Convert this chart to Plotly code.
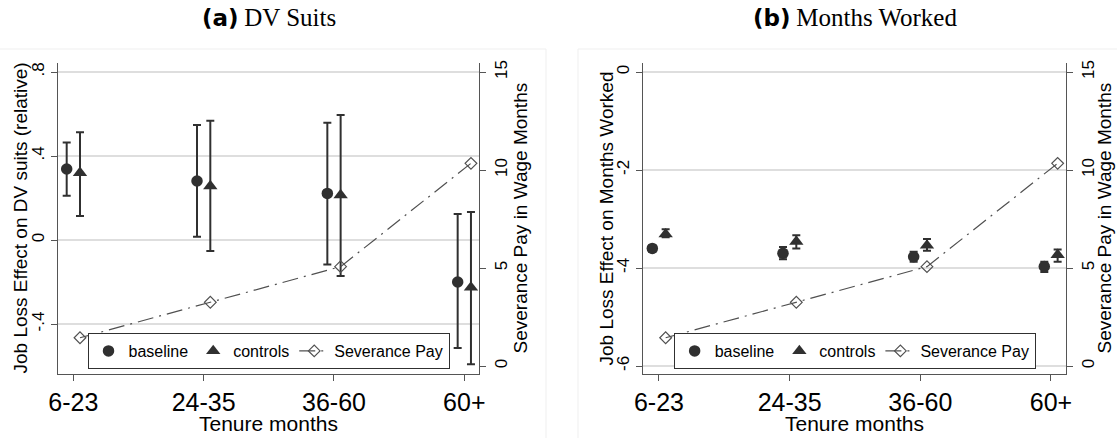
import plotly.graph_objects as go

# ---------------- data ----------------
categories = ["6-23", "24-35", "36-60", "60+"]

# Panel (a): DV suits (relative)
dv_base = [0.338, 0.281, 0.222, -0.200]
dv_base_lo = [0.211, 0.016, -0.116, -0.514]
dv_base_hi = [0.465, 0.548, 0.559, 0.124]
dv_ctrl = [0.320, 0.257, 0.214, -0.226]
dv_ctrl_lo = [0.114, -0.052, -0.171, -0.592]
dv_ctrl_hi = [0.513, 0.568, 0.595, 0.133]

# Panel (b): months worked
mw_base = [-3.60, -3.70, -3.77, -3.97]
mw_base_lo = [-3.67, -3.82, -3.87, -4.08]
mw_base_hi = [-3.54, -3.57, -3.67, -3.87]
mw_ctrl = [-3.31, -3.46, -3.54, -3.73]
mw_ctrl_lo = [-3.37, -3.60, -3.65, -3.87]
mw_ctrl_hi = [-3.21, -3.33, -3.41, -3.62]

# Severance pay in wage months (right axis)
severance = [1.44, 3.25, 5.07, 10.34]

left_ticks_a = [-0.4, 0, 0.4, 0.8]
left_ticktext_a = ["-.4", "0", ".4", ".8"]
left_ticks_b = [-6, -4, -2, 0]
left_ticktext_b = ["-6", "-4", "-2", "0"]
right_ticks = [0, 5, 10, 15]

# ---------------- styling ----------------
W, H = 1117, 438
SANS = "Liberation Sans"
DARK = "#303030"
GRAY = "#505050"
AXIS = "#555555"
GRID = "#dedede"
OFF = 0.051

xc = [i + 1 for i in range(len(categories))]
xb = [v - OFF for v in xc]
xk = [v + OFF for v in xc]


def err(vals, lo, hi):
    return dict(type="data", symmetric=False,
                array=[h - v for v, h in zip(vals, hi)],
                arrayminus=[v - l for v, l in zip(vals, lo)],
                color=DARK, thickness=2, width=4)


fig = go.Figure()

panels = [
    dict(x="x", y="y", y2="y2", base=dv_base, blo=dv_base_lo, bhi=dv_base_hi,
         ctrl=dv_ctrl, clo=dv_ctrl_lo, chi=dv_ctrl_hi, legend="legend"),
    dict(x="x2", y="y3", y2="y4", base=mw_base, blo=mw_base_lo, bhi=mw_base_hi,
         ctrl=mw_ctrl, clo=mw_ctrl_lo, chi=mw_ctrl_hi, legend="legend2"),
]

for p in panels:
    fig.add_trace(go.Scatter(
        x=xb, y=p["base"], mode="markers", name="baseline",
        marker=dict(symbol="circle", size=11.5, color=DARK),
        error_y=err(p["base"], p["blo"], p["bhi"]),
        xaxis=p["x"], yaxis=p["y"], legend=p["legend"], cliponaxis=False))
    fig.add_trace(go.Scatter(
        x=xk, y=p["ctrl"], mode="markers", name="controls",
        marker=dict(symbol="triangle-up", size=12.5, color=DARK),
        error_y=err(p["ctrl"], p["clo"], p["chi"]),
        xaxis=p["x"], yaxis=p["y"], legend=p["legend"], cliponaxis=False))
    fig.add_trace(go.Scatter(
        x=xk, y=severance, mode="lines+markers", name="Severance Pay",
        line=dict(color=GRAY, width=1.2, dash="16px,6px,2px,6px"),
        marker=dict(symbol="diamond-open", size=9, color=GRAY,
                    line=dict(width=1.2, color=GRAY)),
        xaxis=p["x"], yaxis=p["y2"], legend=p["legend"], cliponaxis=False))

# geometry (paper fractions)
ydom = [1 - 374 / H, 1 - 63 / H]
xdom_a = [57.7 / W, 479.3 / W]
xdom_b = [643.3 / W, 1066.0 / W]
xrange = [0.88, 4.115]

common_x = dict(range=xrange, tickvals=xc, ticktext=categories, showgrid=False,
                zeroline=False, showline=True, linecolor=AXIS, linewidth=1.3,
                ticks="outside", ticklen=6, tickcolor=AXIS, tickwidth=1.3,
                automargin=False,
                tickfont=dict(family=SANS, size=25, color="#000"))

common_yl = dict(showgrid=True, gridcolor=GRID, gridwidth=1.5, zeroline=False,
                 showline=True, linecolor=AXIS, linewidth=1.3, ticks="outside",
                 ticklen=6, tickcolor=AXIS, tickwidth=1.3, tickangle=-90,
                 automargin=False,
                 tickfont=dict(family=SANS, size=17, color="#000"))

common_yr = dict(showgrid=False, zeroline=False, showline=True, linecolor=AXIS,
                 linewidth=1.3, ticks="outside", ticklen=6, tickcolor=AXIS,
                 tickwidth=1.3, tickangle=-90, side="right", automargin=False,
                 range=[-0.408, 15.459], tickvals=right_ticks,
                 tickfont=dict(family=SANS, size=17, color="#000"))

fig.update_layout(
    width=W, height=H, margin=dict(l=0, r=0, t=0, b=0, autoexpand=False),
    paper_bgcolor="white", plot_bgcolor="white", showlegend=True,
    xaxis=dict(domain=xdom_a, anchor="y", **common_x),
    xaxis2=dict(domain=xdom_b, anchor="y3", **common_x),
    yaxis=dict(domain=ydom, anchor="x", range=[-0.638, 0.843],
               tickvals=left_ticks_a, ticktext=left_ticktext_a, **common_yl),
    yaxis2=dict(domain=ydom, anchor="x", overlaying="y", **common_yr),
    yaxis3=dict(domain=ydom, anchor="x2", range=[-6.163, 0.184],
                tickvals=left_ticks_b, ticktext=left_ticktext_b, **common_yl),
    yaxis4=dict(domain=ydom, anchor="x2", overlaying="y3", **common_yr),
    legend=dict(orientation="h", x=(xdom_a[0] + xdom_a[1]) / 2, xanchor="center",
                y=1 - 369 / H, yanchor="bottom", bgcolor="white",
                bordercolor=DARK, borderwidth=1, itemwidth=30,
                font=dict(family=SANS, size=16, color="#000"),
                tracegroupgap=0, itemclick=False),
    legend2=dict(orientation="h", x=(xdom_b[0] + xdom_b[1]) / 2, xanchor="center",
                 y=1 - 369 / H, yanchor="bottom", bgcolor="white",
                 bordercolor=DARK, borderwidth=1, itemwidth=30,
                 font=dict(family=SANS, size=16, color="#000"),
                 tracegroupgap=0, itemclick=False),
)

# faint graph-region frames
fig.add_shape(type="rect", xref="paper", yref="paper", x0=-0.01, x1=546 / W,
              y0=-0.01, y1=1 - 49 / H, line=dict(color="#efefef", width=1), layer="below")
fig.add_shape(type="rect", xref="paper", yref="paper", x0=578 / W, x1=1.01,
              y0=-0.01, y1=1 - 49 / H, line=dict(color="#efefef", width=1), layer="below")

ymid = (ydom[0] + ydom[1]) / 2
axis_titles = [
    (20, "Job Loss Effect on DV suits (relative)"),
    (520, "Severance Pay in Wage Months"),
    (606, "Job Loss Effect on Months Worked"),
    (1104, "Severance Pay in Wage Months"),
]
for px, txt in axis_titles:
    fig.add_annotation(xref="paper", yref="paper", x=px / W, y=ymid, textangle=-90,
                       xanchor="center", yanchor="middle", showarrow=False, text=txt,
                       font=dict(family=SANS, size=19, color="#000"))

for xd in (xdom_a, xdom_b):
    fig.add_annotation(xref="paper", yref="paper", x=(xd[0] + xd[1]) / 2, y=1 - 423 / H,
                       xanchor="center", yanchor="middle", showarrow=False,
                       text="Tenure months", font=dict(family=SANS, size=21, color="#000"))

# panel titles
def title(label, text):
    return ("<span style='font-family:DejaVu Sans;font-size:23px'><b>" + label + "</b></span> "
            "<span style='font-family:Liberation Serif;font-size:25px'>" + text + "</span>")

for xd, lab, txt in [(xdom_a, "(a)", "DV Suits"), (xdom_b, "(b)", "Months Worked")]:
    fig.add_annotation(xref="paper", yref="paper", x=(xd[0] + xd[1]) / 2, y=1 - 17 / H,
                       xanchor="center", yanchor="middle", showarrow=False,
                       text=title(lab, txt), font=dict(size=22, color="#000"))

fig.write_html("out.html", config={"displayModeBar": False},
               post_script="document.body.style.margin='0px';")
